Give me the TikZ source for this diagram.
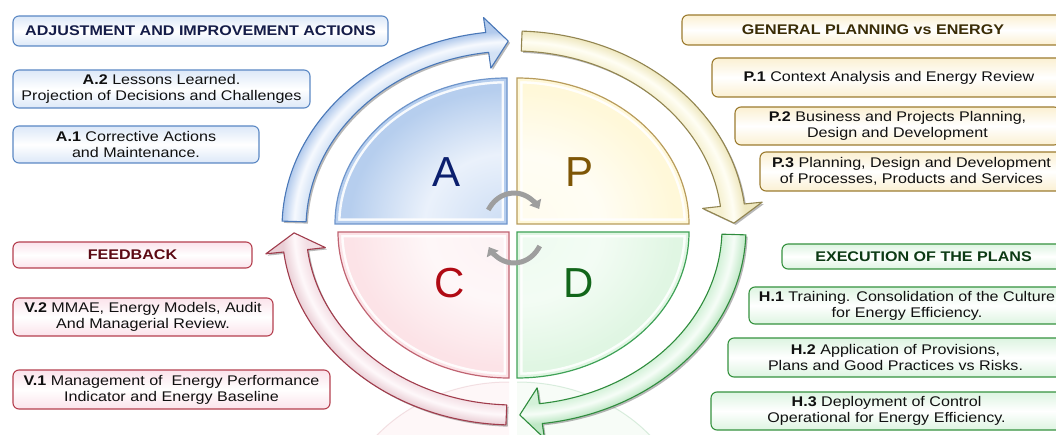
\documentclass[tikz,border=0pt]{standalone}
\usepackage{fontspec}
\setmainfont{Liberation Sans}
\usepackage{graphicx}
\usetikzlibrary{arrows.meta}

% ---------- palette ----------
\definecolor{bBorder}{HTML}{5B88C4}
\definecolor{bFill}{HTML}{DCE8F8}
\definecolor{bTitle}{HTML}{141C48}
\definecolor{yBorder}{HTML}{9C7C30}
\definecolor{yFill}{HTML}{FBF0D2}
\definecolor{yTitle}{HTML}{3A2C05}
\definecolor{rBorder}{HTML}{B5404F}
\definecolor{rFill}{HTML}{FBE3EB}
\definecolor{rTitle}{HTML}{5C0A14}
\definecolor{gBorder}{HTML}{36923F}
\definecolor{gFill}{HTML}{DDF4E1}
\definecolor{gTitle}{HTML}{0C3A14}
\definecolor{txt}{HTML}{101010}

\definecolor{qAin}{HTML}{CCDDF4}\definecolor{qAmid}{HTML}{EAF1FB}\definecolor{qAout}{HTML}{B6CEEE}\definecolor{qAedge}{HTML}{6E95CB}
\definecolor{qPin}{HTML}{FFFCEE}\definecolor{qPmid}{HTML}{FFFDF4}\definecolor{qPout}{HTML}{FFF8D9}\definecolor{qPedge}{HTML}{B89C5C}
\definecolor{qCin}{HTML}{FDF2F4}\definecolor{qCmid}{HTML}{FEF7F8}\definecolor{qCout}{HTML}{FCE3E7}\definecolor{qCedge}{HTML}{C06472}
\definecolor{qDin}{HTML}{EEFBF0}\definecolor{qDmid}{HTML}{F3FCF4}\definecolor{qDout}{HTML}{E0F6E3}\definecolor{qDedge}{HTML}{3FA257}

\definecolor{lA}{HTML}{0B1F6E}\definecolor{lP}{HTML}{7E5606}
\definecolor{lC}{HTML}{B00A14}\definecolor{lD}{HTML}{12661A}

\definecolor{rgBin}{HTML}{D3E2F5}\definecolor{rgBhi}{HTML}{F6F9FE}\definecolor{rgBout}{HTML}{B2CAEC}\definecolor{rgBedge}{HTML}{4A78B8}
\definecolor{rgYin}{HTML}{F6F1D2}\definecolor{rgYhi}{HTML}{FFFEF4}\definecolor{rgYout}{HTML}{EFE8C0}\definecolor{rgYedge}{HTML}{928550}
\definecolor{rgGin}{HTML}{D3F1D8}\definecolor{rgGhi}{HTML}{F6FDF7}\definecolor{rgGout}{HTML}{BFE8C6}\definecolor{rgGedge}{HTML}{2F8C3D}
\definecolor{rgRin}{HTML}{F3DEE4}\definecolor{rgRhi}{HTML}{FEF8FA}\definecolor{rgRout}{HTML}{EACFD6}\definecolor{rgRedge}{HTML}{A03C4C}
\definecolor{cyc}{HTML}{9E9E9E}

% ---------- shadings ----------
% ring arrows: shaded on an ellipse of radii 250/212, so radius r maps to 25*r/250 bp
\pgfdeclareradialshading{ringB}{\pgfpoint{0bp}{0bp}}{color(0bp)=(rgBin); color(20.8bp)=(rgBin); color(22bp)=(rgBhi); color(23.2bp)=(rgBout); color(50bp)=(rgBout)}
\pgfdeclareradialshading{ringY}{\pgfpoint{0bp}{0bp}}{color(0bp)=(rgYin); color(20.8bp)=(rgYin); color(22bp)=(rgYhi); color(23.2bp)=(rgYout); color(50bp)=(rgYout)}
\pgfdeclareradialshading{ringG}{\pgfpoint{0bp}{0bp}}{color(0bp)=(rgGin); color(20.8bp)=(rgGin); color(22bp)=(rgGhi); color(23.2bp)=(rgGout); color(50bp)=(rgGout)}
\pgfdeclareradialshading{ringR}{\pgfpoint{0bp}{0bp}}{color(0bp)=(rgRin); color(20.8bp)=(rgRin); color(22bp)=(rgRhi); color(23.2bp)=(rgRout); color(50bp)=(rgRout)}
% quadrants
\pgfdeclareradialshading{quadA}{\pgfpoint{0bp}{0bp}}{color(0bp)=(qAin); color(12bp)=(qAmid); color(23bp)=(qAout); color(50bp)=(qAout)}
\pgfdeclareradialshading{quadP}{\pgfpoint{0bp}{0bp}}{color(0bp)=(qPin); color(12bp)=(qPmid); color(23bp)=(qPout); color(50bp)=(qPout)}
\pgfdeclareradialshading{quadC}{\pgfpoint{0bp}{0bp}}{color(0bp)=(qCin); color(12bp)=(qCmid); color(23bp)=(qCout); color(50bp)=(qCout)}
\pgfdeclareradialshading{quadD}{\pgfpoint{0bp}{0bp}}{color(0bp)=(qDin); color(12bp)=(qDmid); color(23bp)=(qDout); color(50bp)=(qDout)}

% horizontally widened text
\newcommand\wx[1]{\scalebox{1.15}[1]{#1}}
% one curved arrow of the outer ring: start angle, head base angle, tip angle
\newcommand\ringpath[3]{(#1:232 and 197) arc[start angle=#1, end angle=#2, x radius=232, y radius=197]
  -- (#2:250 and 212) -- (#3:220 and 187) -- (#2:190 and 161)
  -- (#2:208 and 177) arc[start angle=#2, end angle=#1, x radius=208, y radius=177] -- cycle}
% one ring arrow with shadow, shading and outline
\newcommand\ringarrow[5]{%
  \fill[black, opacity=.28, shift={(1.8,-1.8)}] \ringpath{#1}{#2}{#3};
  \begin{scope}
    \clip \ringpath{#1}{#2}{#3};
    \shade[shading=#4] (0,0) ellipse [x radius=250, y radius=212];
  \end{scope}
  \draw[#5, line width=1.1pt, line join=round] \ringpath{#1}{#2}{#3};}
% one quadrant: corner x, corner y, x radius, start angle, end angle, shading, band colour, edge colour
\newcommand\quadrant[8]{%
  \begin{scope}
    \clip (#1,#2) -- ($(#1,#2)+(#4:#3 and 146)$) arc[start angle=#4, end angle=#5, x radius=#3, y radius=146] -- cycle;
    \shade[shading=#6] (#1,#2) ellipse [x radius=#3, y radius=146];
    \draw[white, opacity=.9, line width=11pt] (#1,#2) -- ($(#1,#2)+(#4:#3 and 146)$) arc[start angle=#4, end angle=#5, x radius=#3, y radius=146] -- cycle;
    \draw[#7, line width=6pt] (#1,#2) -- ($(#1,#2)+(#4:#3 and 146)$) arc[start angle=#4, end angle=#5, x radius=#3, y radius=146] -- cycle;
  \end{scope}
  \draw[#8, line width=1.2pt] (#1,#2) -- ($(#1,#2)+(#4:#3 and 146)$) arc[start angle=#4, end angle=#5, x radius=#3, y radius=146] -- cycle;}
\usetikzlibrary{calc}

\begin{document}
\begin{tikzpicture}[x=1pt, y=-1pt,
  box/.style={rounded corners=6pt, inner sep=0pt, align=center, line width=1.1pt,
    font=\fontsize{14}{16}\selectfont, text=txt},
  bluebox/.style={box, draw=bBorder, top color=bFill, bottom color=bFill, middle color=white},
  yellowbox/.style={box, draw=yBorder, top color=yFill, bottom color=yFill, middle color=white},
  redbox/.style={box, draw=rBorder, top color=rFill, bottom color=rFill, middle color=white},
  greenbox/.style={box, draw=gBorder, top color=gFill, bottom color=gFill, middle color=white},
  letter/.style={inner sep=0pt, font=\fontsize{42}{42}\selectfont},
  cycarrow/.style={draw=cyc, line width=5pt, -{Triangle[width=13pt, length=8pt]}}]

\useasboundingbox (0,0) rectangle (1056,435);
\clip (0,0) rectangle (1056,435);
\fill[white] (0,0) rectangle (1056,435);

% ---------- cycle wheel, origin at its centre, y pointing up ----------
\begin{scope}[shift={(514,228)}, yscale=-1]
  % faint mirror image of the lower quadrants
  \fill[qCout, opacity=.25] (-5,-300) -- (-5,-154) arc[start angle=90, end angle=180, x radius=171, y radius=146] -- cycle;
  \draw[qCedge, opacity=.18, line width=1pt] (-5,-154) arc[start angle=90, end angle=180, x radius=171, y radius=146];
  \fill[qDout, opacity=.25] (3,-300) -- (3,-154) arc[start angle=90, end angle=0, x radius=172, y radius=146] -- cycle;
  \draw[qDedge, opacity=.18, line width=1pt] (3,-154) arc[start angle=90, end angle=0, x radius=172, y radius=146];

  % quadrants A, P, C, D
  \quadrant{-7}{4}{172}{180}{90}{quadA}{qAout}{qAedge}
  \quadrant{3}{4}{172}{0}{90}{quadP}{qPout}{qPedge}
  \quadrant{-5}{-4}{171}{180}{270}{quadC}{qCout}{qCedge}
  \quadrant{3}{-4}{172}{0}{-90}{quadD}{qDout}{qDedge}

  % outer ring of four arrows, running clockwise
  \ringarrow{178}{97}{91.5}{ringB}{rgBedge}
  \ringarrow{88}{7}{1.5}{ringY}{rgYedge}
  \ringarrow{-2}{-83}{-88.5}{ringG}{rgGedge}
  \ringarrow{-92}{-173}{-178.5}{ringR}{rgRedge}

  % small turning arrows at the centre
  \draw[cycarrow] (149:30 and 35) arc[start angle=149, end angle=33, x radius=30, y radius=35];
  \draw[cycarrow] (-31:30 and 35) arc[start angle=-31, end angle=-147, x radius=30, y radius=35];
\end{scope}

% ---------- quadrant letters ----------
\node[letter, text=lA] (letA) at (446,172) {A};
\node[letter, text=lP] (letP) at (579,172) {P};
\node[letter, text=lC] (letC) at (450,283) {C};
\node[letter, text=lD] (letD) at (579,283) {D};

% ---------- Act ----------
\node[bluebox, minimum width=375pt, minimum height=30pt, text=bTitle] (adj) at (200.5,31)
  {\wx{\textbf{ADJUSTMENT AND IMPROVEMENT ACTIONS}}};
\node[bluebox, minimum width=297pt, minimum height=38pt] (a2) at (161.5,89)
  {\wx{\textbf{A.2} Lessons Learned.}\\\wx{Projection of Decisions and Challenges}};
\node[bluebox, minimum width=246pt, minimum height=37pt] (a1) at (136,144.5)
  {\wx{\textbf{A.1} Corrective Actions}\\\wx{and Maintenance.}};

% ---------- Plan ----------
\node[yellowbox, minimum width=382pt, minimum height=30pt, text=yTitle] (gen) at (873,30)
  {\wx{\textbf{GENERAL PLANNING vs ENERGY}}};
\node[yellowbox, minimum width=354pt, minimum height=39pt] (p1) at (889,77.5)
  {\wx{\textbf{P.1} Context Analysis and Energy Review}};
\node[yellowbox, minimum width=325pt, minimum height=38pt] (p2) at (897.5,126)
  {\wx{\textbf{P.2} Business and Projects Planning,}\\\wx{Design and Development}};
\node[yellowbox, minimum width=303pt, minimum height=39pt] (p3) at (911.5,171.5)
  {\wx{\textbf{P.3} Planning, Design and Development}\\\wx{of Processes, Products and Services}};

% ---------- Check ----------
\node[redbox, minimum width=239pt, minimum height=26pt, text=rTitle] (fb) at (132.5,255)
  {\wx{\textbf{FEEDBACK}}};
\node[redbox, minimum width=260pt, minimum height=38pt] (v2) at (143,317)
  {\wx{\textbf{V.2} MMAE, Energy Models, Audit}\\\wx{And Managerial Review.}};
\node[redbox, minimum width=317pt, minimum height=39pt] (v1) at (171.5,389.5)
  {\wx{\textbf{V.1} Management of~ Energy Performance}\\\wx{Indicator and Energy Baseline}};

% ---------- Do ----------
\node[greenbox, minimum width=283pt, minimum height=25pt, text=gTitle] (exe) at (923.5,256.5)
  {\wx{\textbf{EXECUTION OF THE PLANS}}};
\node[greenbox, minimum width=316pt, minimum height=37pt] (h1) at (907,305.5)
  {\wx{\textbf{H.1} Training. Consolidation of the Culture}\\\wx{for Energy Efficiency.}};
\node[greenbox, minimum width=335pt, minimum height=39pt] (h2) at (895.5,357.5)
  {\wx{\textbf{H.2} Application of Provisions,}\\\wx{Plans and Good Practices vs Risks.}};
\node[greenbox, minimum width=351pt, minimum height=38pt] (h3) at (886.5,411)
  {\wx{\textbf{H.3} Deployment of Control}\\\wx{Operational for Energy Efficiency.}};
\end{tikzpicture}
\end{document}
